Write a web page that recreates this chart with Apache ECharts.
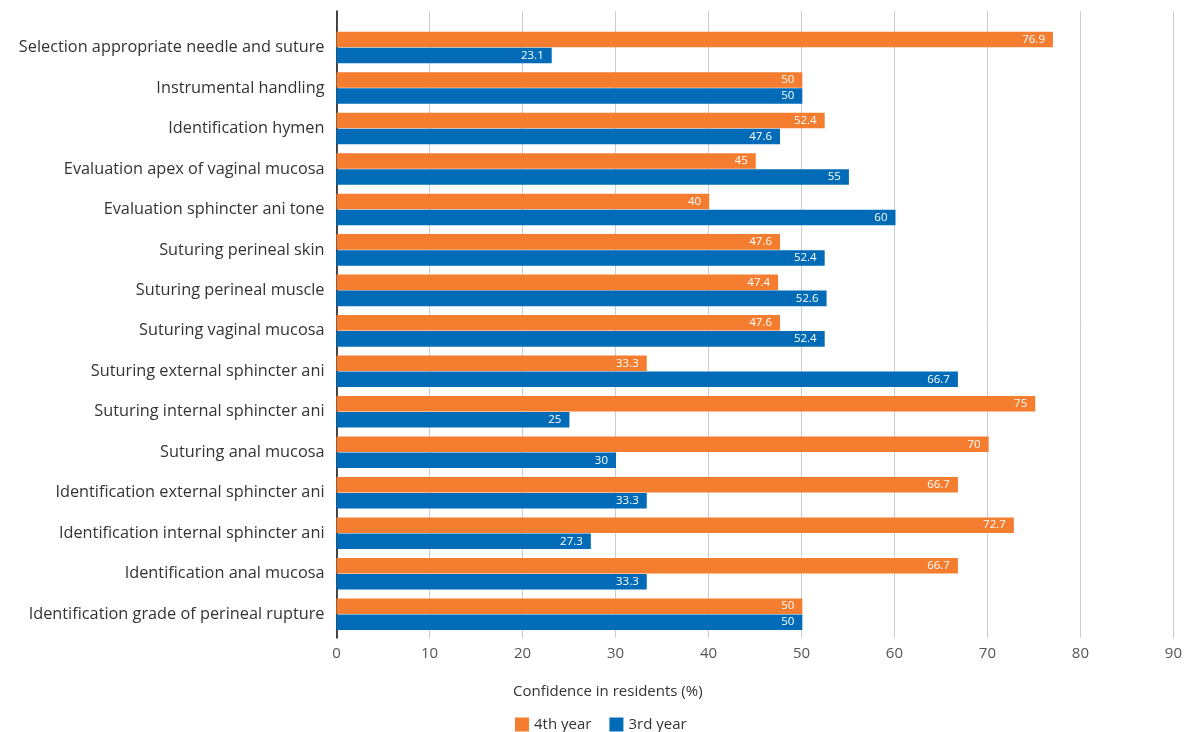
<!DOCTYPE html>
<html>
<head>
<meta charset="utf-8">
<script src="https://cdn.jsdelivr.net/npm/echarts@6/dist/echarts.min.js"></script>
<style>html,body{margin:0;padding:0;background:#fff;}#c{width:1185px;height:732px;}</style>
</head>
<body>
<div id="c"></div>
<script>
var categories = [
  'Selection appropriate needle and suture',
  'Instrumental handling',
  'Identification hymen',
  'Evaluation apex of vaginal mucosa',
  'Evaluation sphincter ani tone',
  'Suturing perineal skin',
  'Suturing perineal muscle',
  'Suturing vaginal mucosa',
  'Suturing external sphincter ani',
  'Suturing internal sphincter ani',
  'Suturing anal mucosa',
  'Identification external sphincter ani',
  'Identification internal sphincter ani',
  'Identification anal mucosa',
  'Identification grade of perineal rupture'
];
var fourthYear = [76.9, 50, 52.4, 45, 40, 47.6, 47.4, 47.6, 33.3, 75, 70, 66.7, 72.7, 66.7, 50];
var thirdYear = [23.1, 50, 47.6, 55, 60, 52.4, 52.6, 52.4, 66.7, 25, 30, 33.3, 27.3, 33.3, 50];
var xTicks = [0, 10, 20, 30, 40, 50, 60, 70, 80, 90];

var FONT = 'Open Sans';
var chart = echarts.init(document.getElementById('c'), null, {renderer: 'canvas'});
var labelCfg = {
  show: true, position: 'insideRight', color: '#fff', fontSize: 11.5, fontFamily: FONT, distance: 8
};
chart.setOption({
  animation: false,
  textStyle: {fontFamily: FONT},
  title: {
    text: 'Confidence in residents (%)', left: 508, top: 679,
    textStyle: {fontSize: 15, fontWeight: 'normal', color: '#333', fontFamily: FONT}
  },
  legend: {
    data: ['4th year', '3rd year'], left: 510, top: 712, itemWidth: 14, itemHeight: 14, itemGap: 18,
    icon: 'rect',
    textStyle: {fontSize: 15, color: '#333', fontFamily: FONT}
  },
  grid: [
    {left: 336.5, right: 10, top: 11, bottom: 94},
    {left: 336.5, right: 10, top: 27.3, bottom: 97.6}
  ],
  xAxis: [
    {
      gridIndex: 0, type: 'value', min: xTicks[0], max: xTicks[xTicks.length - 1], interval: 10,
      axisLine: {show: false}, axisTick: {show: false},
      axisLabel: {color: '#555', fontSize: 15, margin: 8, fontFamily: FONT},
      splitLine: {show: true, lineStyle: {color: '#cccccc', width: 1}}
    },
    {
      gridIndex: 1, type: 'value', min: xTicks[0], max: xTicks[xTicks.length - 1], interval: 10,
      show: false
    }
  ],
  yAxis: [
    {
      gridIndex: 0, type: 'value', min: 0, max: 1,
      axisLine: {show: true, lineStyle: {color: '#111', width: 1.5}},
      axisTick: {show: false}, axisLabel: {show: false}, splitLine: {show: false}
    },
    {
      gridIndex: 1, type: 'category', data: categories, inverse: true,
      axisLine: {show: false}, axisTick: {show: false},
      axisLabel: {color: '#333', fontSize: 16.3, margin: 12, fontFamily: FONT}
    }
  ],
  series: [
    {
      name: '4th year', type: 'bar', xAxisIndex: 1, yAxisIndex: 1, data: fourthYear,
      itemStyle: {color: '#F47D30'}, barCategoryGap: '22%', barGap: '3%', label: labelCfg
    },
    {
      name: '3rd year', type: 'bar', xAxisIndex: 1, yAxisIndex: 1, data: thirdYear,
      itemStyle: {color: '#016BB7'}, barCategoryGap: '22%', barGap: '3%', label: labelCfg
    }
  ]
});
</script>
</body>
</html>
